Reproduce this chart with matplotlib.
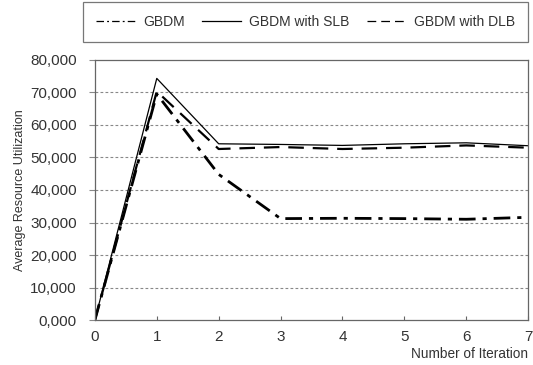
import matplotlib.pyplot as plt

# data
iterations = [0, 1, 2, 3, 4, 5, 6, 7]
gbdm = [0, 69500, 44800, 31200, 31300, 31200, 31000, 31600]
gbdm_slb = [0, 74300, 54200, 54000, 53700, 54200, 54500, 53600]
gbdm_dlb = [0, 70300, 52600, 53200, 52600, 53000, 53700, 53000]
y_ticks = [0, 10000, 20000, 30000, 40000, 50000, 60000, 70000, 80000]
y_labels = ["0,000", "10,000", "20,000", "30,000", "40,000",
            "50,000", "60,000", "70,000", "80,000"]

plt.rcParams['font.family'] = ['Liberation Sans', 'DejaVu Sans']

fig = plt.figure(figsize=(5.33, 3.65), dpi=100)
ax = fig.add_axes([0.178, 0.123, 0.813, 0.713])

ax.plot(iterations, gbdm, color='black', lw=2.0, linestyle=(0, (6, 2.5, 1.5, 2.5)), label='GBDM')
ax.plot(iterations, gbdm_slb, color='black', lw=0.9, linestyle='-', label='GBDM with SLB')
ax.plot(iterations, gbdm_dlb, color='black', lw=1.6, linestyle=(0, (7, 4)), label='GBDM with DLB')

ax.set_xlim(0, 7)
ax.set_ylim(0, 80000)
ax.set_xticks(iterations)
ax.set_yticks(y_ticks)
ax.set_yticklabels(y_labels)

for y in y_ticks[1:-1]:
    ax.axhline(y, color='#888888', lw=0.8, linestyle=(0, (2.5, 2)), zorder=0)

for s in ax.spines.values():
    s.set_color('#666666')
    s.set_linewidth(0.9)

ax.tick_params(axis='x', direction='in', length=3, colors='#666666', labelcolor='#333333',
               labelsize=11, pad=7)
ax.tick_params(axis='y', direction='out', length=4, colors='#888888', labelcolor='#333333',
               labelsize=11, pad=9)

ax.set_ylabel('Average Resource Utilization', fontsize=9, color='#333333', labelpad=3)
fig.text(0.991, 0.01, 'Number of Iteration', ha='right', va='bottom', fontsize=9.8, color='#333333')

leg = ax.legend(loc='lower left', bbox_to_anchor=(-0.028, 1.069, 1.028, 0.143), mode='expand',
                ncol=3, frameon=True, fancybox=False, fontsize=10, handlelength=2.8,
                borderaxespad=0, borderpad=0.95, handletextpad=0.6, columnspacing=1.2)
leg.get_frame().set_edgecolor('#555555')
leg.get_frame().set_linewidth(0.9)
for t in leg.get_texts():
    t.set_color('#333333')
for h in leg.get_lines():
    h.set_linewidth(0.9)

fig.savefig('out.png', dpi=100)
